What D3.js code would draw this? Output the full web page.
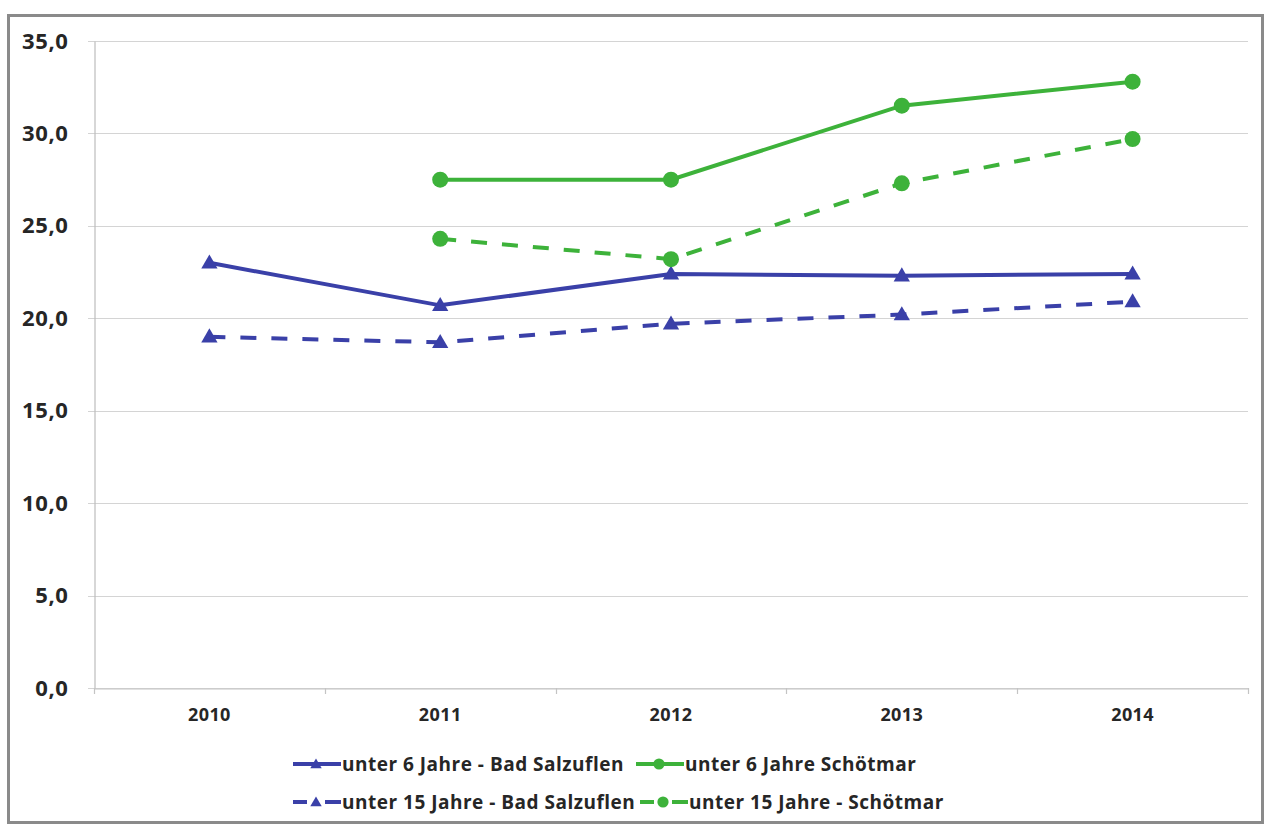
<!DOCTYPE html>
<html>
<head>
<meta charset="utf-8">
<script src="https://cdn.jsdelivr.net/npm/d3@7"></script>
<style>
  html, body { margin: 0; padding: 0; background: #fff; }
  svg { display: block; }
  text { font-family: "Open Sans", "Lato", sans-serif; }
</style>
</head>
<body>
<svg id="chart" width="1266" height="826"></svg>
<script>
// Anteil je Altersgruppe, 2010–2014
const years = ["2010", "2011", "2012", "2013", "2014"];
const u6BadSalzuflen  = [23.0, 20.7, 22.4, 22.3, 22.4];
const u15BadSalzuflen = [19.0, 18.7, 19.7, 20.2, 20.9];
const u6Schoetmar     = [null, 27.5, 27.5, 31.5, 32.8];
const u15Schoetmar    = [null, 24.3, 23.2, 27.3, 29.7];
const yTicks = [0, 5, 10, 15, 20, 25, 30, 35];

const BLUE = "#3a40a8";
const GREEN = "#3db23a";

const series = [
  { name: "unter 6 Jahre - Bad Salzuflen",  values: u6BadSalzuflen,  color: BLUE,  dashed: false, marker: "triangle" },
  { name: "unter 6 Jahre Schötmar",         values: u6Schoetmar,     color: GREEN, dashed: false, marker: "circle" },
  { name: "unter 15 Jahre - Bad Salzuflen", values: u15BadSalzuflen, color: BLUE,  dashed: true,  marker: "triangle" },
  { name: "unter 15 Jahre - Schötmar",      values: u15Schoetmar,    color: GREEN, dashed: true,  marker: "circle" }
];

const svg = d3.select("#chart");

// outer frame
svg.append("rect")
  .attr("x", 8.5).attr("y", 15.5)
  .attr("width", 1254).attr("height", 807)
  .attr("fill", "#fff").attr("stroke", "#8a8a8a").attr("stroke-width", 3);

const plot = { left: 94, right: 1248, top: 41, bottom: 688 };

const x = d3.scaleBand().domain(years).range([plot.left, plot.right]).padding(0);
const y = d3.scaleLinear().domain([0, 35]).range([plot.bottom, plot.top]);

// horizontal gridlines
svg.append("g")
  .selectAll("line")
  .data(yTicks)
  .join("line")
  .attr("x1", plot.left - 6).attr("x2", plot.right)
  .attr("y1", d => Math.round(y(d)) + 0.5).attr("y2", d => Math.round(y(d)) + 0.5)
  .attr("stroke", "#d4d4d4").attr("stroke-width", 1.2);

// y axis
const yAxis = svg.append("g")
  .attr("transform", `translate(${plot.left + 0.5},0)`)
  .call(d3.axisLeft(y).tickValues(yTicks).tickSize(0).tickPadding(26)
    .tickFormat(d => d3.format(".1f")(d).replace(".", ",")));
yAxis.select(".domain").attr("stroke", "#bdbdbd").attr("stroke-width", 1.2);
yAxis.selectAll("text")
  .attr("font-size", 22).attr("font-weight", 700).attr("fill", "#262626")
  .attr("letter-spacing", 0.6);

// x axis with ticks at category boundaries
const xAxis = svg.append("g")
  .attr("transform", `translate(0,${Math.round(y(0)) + 0.5})`)
  .call(d3.axisBottom(x).tickSize(0).tickPadding(20));
xAxis.select(".domain").attr("stroke", "#c4c4c4").attr("stroke-width", 1.2);
xAxis.selectAll("text")
  .attr("font-size", 18).attr("font-weight", 700).attr("fill", "#262626")
  .attr("letter-spacing", 0.4);
svg.append("g")
  .selectAll("line")
  .data(years.map(d => x(d)).concat([plot.right]))
  .join("line")
  .attr("x1", d => Math.round(d) + 0.5).attr("x2", d => Math.round(d) + 0.5)
  .attr("y1", Math.round(y(0))).attr("y2", Math.round(y(0)) + 6)
  .attr("stroke", "#c4c4c4").attr("stroke-width", 1.2);

const cx = d => x(d) + x.bandwidth() / 2;

const line = d3.line()
  .defined(d => d.v != null)
  .x(d => cx(d.year))
  .y(d => y(d.v));

function drawMarker(g, type, color, px, py, scale) {
  if (type === "circle") {
    g.append("circle").attr("cx", px).attr("cy", py).attr("r", 8 * scale).attr("fill", color);
  } else {
    g.append("path").attr("d", d3.symbol().type(d3.symbolTriangle).size(115 * scale * scale)())
      .attr("transform", `translate(${px},${py + 1})`).attr("fill", color);
  }
}

// series lines and markers
series.forEach(s => {
  const pts = years.map((yr, i) => ({ year: yr, v: s.values[i] }));
  const g = svg.append("g");
  g.append("path")
    .datum(pts)
    .attr("d", line)
    .attr("fill", "none")
    .attr("stroke", s.color)
    .attr("stroke-width", 4)
    .attr("stroke-dasharray", s.dashed ? "16,15" : null);
  pts.filter(d => d.v != null).forEach(d => drawMarker(g, s.marker, s.color, cx(d.year), y(d.v), 1));
});

// legend
const legendPos = [
  { x: 293, y: 764 }, { x: 636, y: 764 },
  { x: 293, y: 802 }, { x: 640, y: 802 }
];
series.forEach((s, i) => {
  const p = legendPos[i];
  const g = svg.append("g").attr("transform", `translate(${p.x},${p.y})`);
  g.append("line")
    .attr("x1", 0).attr("x2", 48).attr("y1", 0).attr("y2", 0)
    .attr("stroke", s.color).attr("stroke-width", 4)
    .attr("stroke-dasharray", s.dashed ? "14,9,0,9,16" : null);
  drawMarker(g, s.marker, s.color, 23, 0, 0.7);
  g.append("text")
    .attr("x", 49).attr("y", 0).attr("dy", "0.36em")
    .attr("font-size", 19).attr("font-weight", 700).attr("fill", "#262626")
    .attr("letter-spacing", 0.5)
    .text(s.name);
});
</script>
</body>
</html>
